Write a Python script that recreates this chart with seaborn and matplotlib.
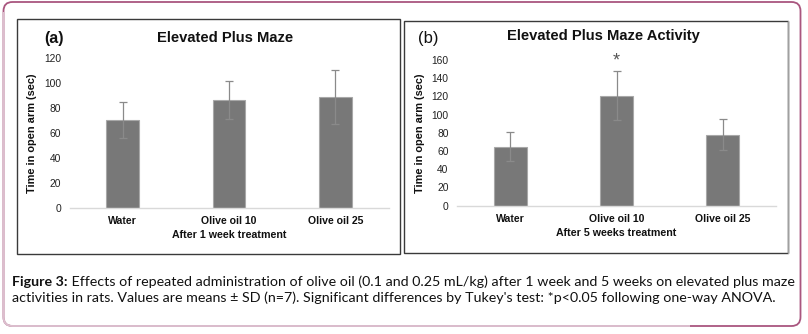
import matplotlib
matplotlib.use("Agg")
import matplotlib.pyplot as plt
import seaborn as sns
import pandas as pd
from matplotlib.patches import FancyBboxPatch, Rectangle, Polygon
from matplotlib.transforms import IdentityTransform

# ---------------- data ----------------
categories = ["Water", "Olive oil 10", "Olive oil 25"]
week1_mean = [70.5, 86.5, 89.0]
week1_sd = [14.3, 15.4, 21.8]
week5_mean = [65.0, 121.0, 78.0]
week5_sd = [16.0, 26.5, 17.0]
yticks_a = [0, 20, 40, 60, 80, 100, 120]
yticks_b = [0, 20, 40, 60, 80, 100, 120, 140, 160]
title_a = "Elevated Plus Maze"
title_b = "Elevated Plus Maze Activity"
xlabel_a = "After 1 week treatment"
xlabel_b = "After 5 weeks treatment"
ylabel = "Time in open arm (sec)"
caption_bold = "Figure 3:"
caption_line1 = " Effects of repeated administration of olive oil (0.1 and 0.25 mL/kg) after 1 week and 5 weeks on elevated plus maze"
caption_line2 = "activities in rats. Values are means \u00b1 SD (n=7). Significant differences by Tukey's test: *p<0.05 following one-way ANOVA."

sns.set_theme(style="white")
plt.rcParams["font.family"] = ["Liberation Sans", "DejaVu Sans"]

W, H = 808, 334
fig = plt.figure(figsize=(W / 100, H / 100), dpi=100)
fig.patch.set_facecolor("white")


def px_axes(l, t, r, b):
    return [l / W, 1 - b / H, (r - l) / W, (b - t) / H]


def disp(x, y):
    return (x, H - y)


# ---------- outer rounded border ----------
ident = IdentityTransform()
ob_l, ob_t, ob_r, ob_b = 3.5, 2.0, 800.5, 326.0
dark = FancyBboxPatch(disp(ob_l, ob_b), ob_r - ob_l, ob_b - ob_t,
                      boxstyle="round,pad=0,rounding_size=9",
                      transform=ident, facecolor="none", edgecolor="#a9567f", lw=1.3)
fig.patches.append(dark)
light = FancyBboxPatch(disp(ob_l, ob_b), ob_r - ob_l, ob_b - ob_t,
                       boxstyle="round,pad=0,rounding_size=9",
                       transform=ident, facecolor="none", edgecolor="#dcbfce", lw=1.4)
clip_poly = Polygon([disp(0, 12), disp(14, 12), disp(14, 300), disp(690, 300),
                     disp(690, 334), disp(0, 334)], closed=True, transform=ident)
light.set_clip_path(clip_poly)
fig.patches.append(light)

# ---------- panel boxes ----------
fig.patches.append(Rectangle(disp(17, 254), 383, 235, transform=ident,
                             facecolor="none", edgecolor="#3a3a3a", lw=1.0))
fig.patches.append(Rectangle(disp(403.5, 252.5), 384.5, 232, transform=ident,
                             facecolor="none", edgecolor="#3a3a3a", lw=1.0))
fig.lines.append(plt.Line2D([788, 788], [H - 252.5, H - 21], transform=ident,
                            color="#a0a0a0", lw=1.0))


def draw_panel(ax, means, sds, ylim, yticks, xlabel):
    df = pd.DataFrame({"group": categories, "value": means})
    sns.barplot(data=df, x="group", y="value", ax=ax, color="#787878",
                width=0.31, errorbar=None, edgecolor="#a8a8a8", linewidth=0.8,
                saturation=1)
    xs = [p.get_x() + p.get_width() / 2 for p in ax.patches]
    ax.errorbar(xs, means, yerr=sds, fmt="none", ecolor="#8a8a8a",
                elinewidth=0.9, capsize=2.8, capthick=0.9, zorder=5)
    ax.set_xlim(-0.5, 2.5)
    ax.set_ylim(*ylim)
    ax.set_yticks(yticks)
    ax.set_yticklabels([str(t) for t in yticks], fontsize=7.4, color="#222222")
    ax.set_xticklabels(categories, fontsize=7.6, fontweight="bold", color="#111111")
    ax.tick_params(axis="both", length=0)
    ax.tick_params(axis="y", pad=6)
    ax.tick_params(axis="x", pad=6)
    for s in ["top", "right", "left"]:
        ax.spines[s].set_visible(False)
    ax.spines["bottom"].set_color("#d9d9d9")
    ax.spines["bottom"].set_linewidth(1.0)
    ax.set_xlabel(xlabel, fontsize=7.7, fontweight="bold", color="#111111", labelpad=3)
    ax.set_ylabel(ylabel, fontsize=7.9, fontweight="bold", color="#111111", labelpad=5)
    ax.set_facecolor("none")


ax_a = fig.add_axes(px_axes(69.5, 58.3, 388.5, 207.7))
draw_panel(ax_a, week1_mean, week1_sd, (0, 120), yticks_a, xlabel_a)
ax_b = fig.add_axes(px_axes(457, 60, 776, 205.7))
draw_panel(ax_b, week5_mean, week5_sd, (0, 160), yticks_b, xlabel_b)

ax_b.text(1, 159, "*", ha="center", va="center", fontsize=13, color="#555555",
          clip_on=False)

# titles
fig.text(225 / W, 1 - 38 / H, title_a, ha="center", va="center",
         fontsize=10.6, fontweight="bold", color="#111111")
fig.text(54 / W, 1 - 38 / H, "(a)", ha="center", va="center",
         fontsize=11.5, fontweight="bold", color="#111111")
fig.text(603 / W, 1 - 36 / H, title_b, ha="center", va="center",
         fontsize=10.6, fontweight="bold", color="#111111")
fig.text(428 / W, 1 - 38 / H, "(b)", ha="center", va="center",
         fontsize=12, color="#111111")

# caption
cap_font = ["Lato", "DejaVu Sans"]
cap_size = 9.0
cap_color = "#111111"
renderer = fig.canvas.get_renderer()
x0 = 12
t1 = fig.text(x0 / W, 1 - 282 / H, caption_bold, ha="left", va="center",
              fontsize=cap_size, fontweight="bold", family=cap_font, color=cap_color)
bb = t1.get_window_extent(renderer)
t2 = fig.text(bb.x1 / W, 1 - 282 / H, caption_line1, ha="left", va="center",
              fontsize=cap_size, family=cap_font, color=cap_color)
bb2 = t2.get_window_extent(renderer)
# fit line 1 to the reference width (ends near x=797)
scale = (797 - x0) / (bb2.x1 - x0)
cap_size = cap_size * scale
t1.set_fontsize(cap_size)
bb = t1.get_window_extent(renderer)
t2.set_fontsize(cap_size)
t2.set_x(bb.x1 / W)
fig.text(x0 / W, 1 - 298 / H, caption_line2, ha="left", va="center",
         fontsize=cap_size, family=cap_font, color=cap_color)

fig.savefig("out.png", dpi=100, facecolor="white")
